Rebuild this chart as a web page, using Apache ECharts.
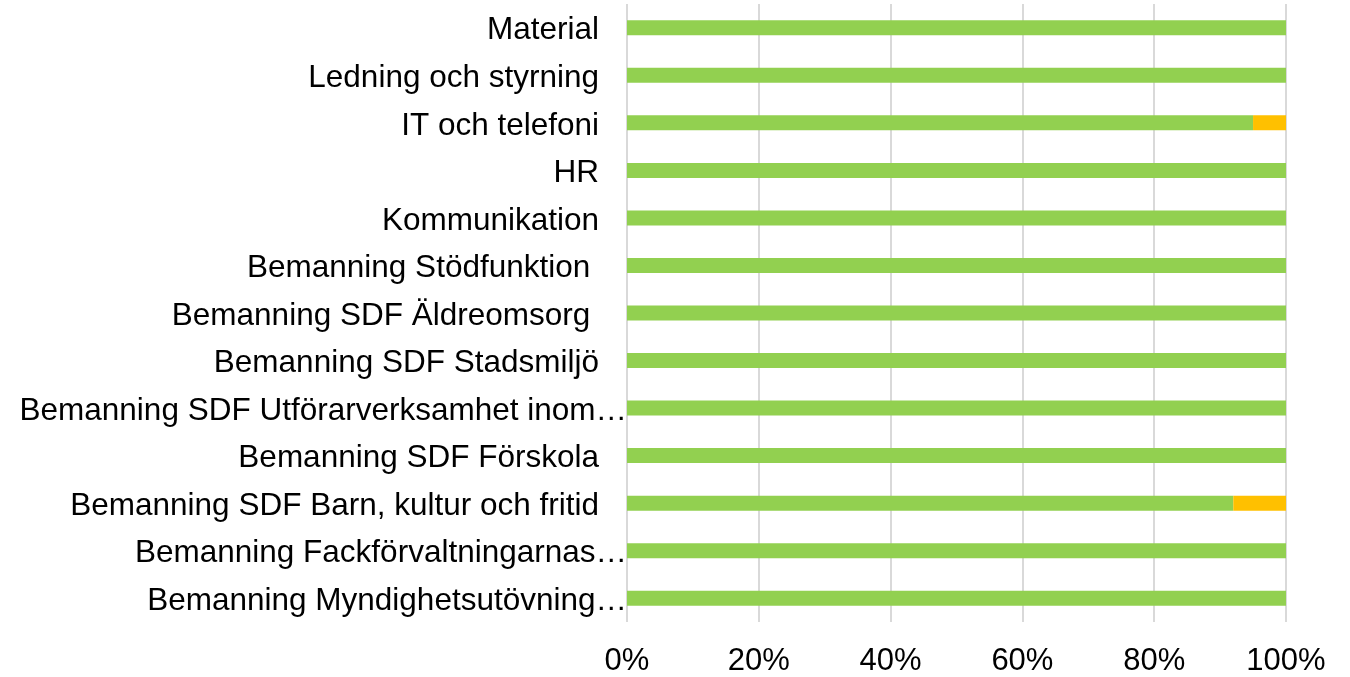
<!DOCTYPE html>
<html>
<head>
<meta charset="utf-8">
<style>
  html, body { margin: 0; padding: 0; background: #fff; }
  #main { width: 1350px; height: 677px; }
</style>
<script src="https://cdn.jsdelivr.net/npm/echarts@6/dist/echarts.min.js"></script>
</head>
<body>
<div id="main"></div>
<script>
// top to bottom, as in the picture
const categories = [
  'Material',
  'Ledning och styrning',
  'IT och telefoni',
  'HR',
  'Kommunikation',
  'Bemanning Stödfunktion ',
  'Bemanning SDF Äldreomsorg ',
  'Bemanning SDF Stadsmiljö',
  'Bemanning SDF Utförarverksamhet inom…',
  'Bemanning SDF Förskola',
  'Bemanning SDF Barn, kultur och fritid',
  'Bemanning Fackförvaltningarnas…',
  'Bemanning Myndighetsutövning…'
];
const greenValues = [100, 100, 95, 100, 100, 100, 100, 100, 100, 100, 92, 100, 100];
const orangeValues = [0, 0, 5, 0, 0, 0, 0, 0, 0, 0, 8, 0, 0];
const xTicks = [0, 20, 40, 60, 80, 100];

const chart = echarts.init(document.getElementById('main'));
const font = '"Liberation Sans", Arial, sans-serif';

chart.setOption({
  animation: false,
  grid: { left: 627, right: 64, top: 4, bottom: 53 },
  xAxis: {
    type: 'value',
    min: 0,
    max: 100,
    interval: 20,
    axisLine: { show: false },
    axisTick: { show: false },
    splitLine: { show: true, lineStyle: { color: '#d9d9d9', width: 2 } },
    axisLabel: {
      margin: 24,
      fontSize: 31,
      fontFamily: font,
      color: '#000',
      formatter: v => (xTicks.includes(v) ? v + '%' : '')
    }
  },
  yAxis: {
    type: 'category',
    data: categories,
    inverse: true,
    axisLine: { show: false },
    axisTick: { show: false },
    axisLabel: {
      margin: 0,
      interval: 0,
      fontSize: 31.5,
      fontFamily: font,
      color: '#000',
      formatter: v => (v.endsWith('…') ? '{t|' + v + '}' : '{t|' + v + '}{s|}'),
      rich: {
        t: { fontSize: 31.5, fontFamily: font, color: '#000', padding: [6, 0, 0, 0] },
        s: { width: 28 }
      }
    }
  },
  series: [
    {
      type: 'bar',
      stack: 'total',
      data: greenValues,
      barWidth: 15,
      itemStyle: { color: '#92D050' }
    },
    {
      type: 'bar',
      stack: 'total',
      data: orangeValues,
      barWidth: 15,
      itemStyle: { color: '#FFC000' }
    }
  ]
});
</script>
</body>
</html>
